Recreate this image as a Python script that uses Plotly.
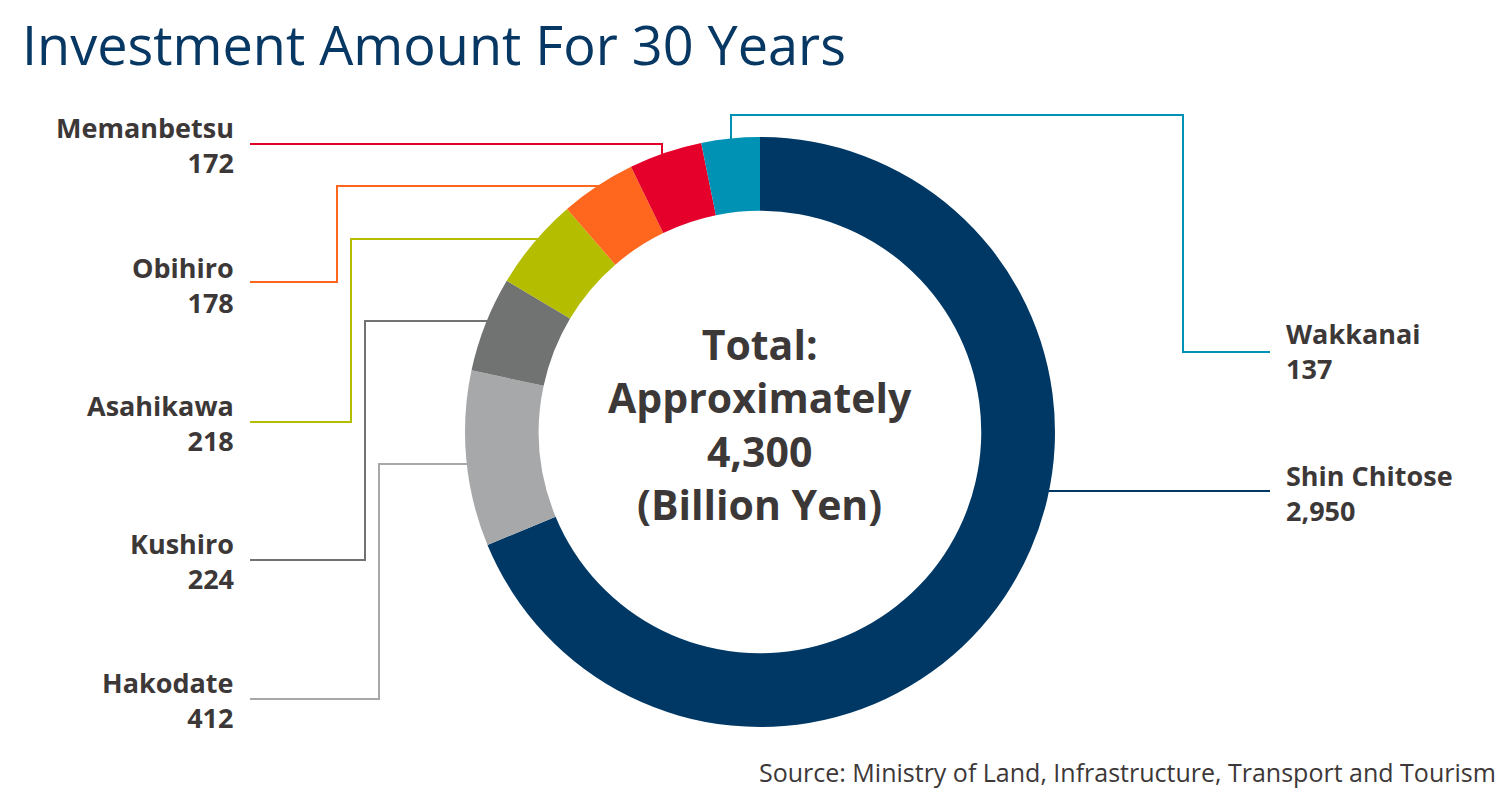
import plotly.graph_objects as go

# ---- data ----
airports = ["Shin Chitose", "Hakodate", "Kushiro", "Asahikawa", "Obihiro", "Memanbetsu", "Wakkanai"]
amounts = [2950, 412, 224, 218, 178, 172, 137]
colors = ["#003865", "#a7a8aa", "#707372", "#b5bd00", "#ff671f", "#e4002b", "#0092b5"]
value_labels = ["2,950", "412", "224", "218", "178", "172", "137"]
title_text = "Investment Amount For 30 Years"
center_lines = ["Total:", "Approximately", "4,300", "(Billion Yen)"]
source_text = "Source: Ministry of Land, Infrastructure, Transport and Tourism"

W, H = 1512, 792
def px(x): return x / W
def py(y): return 1 - y / H

TXT = "#3d3838"
# ---- layout constants (pixel positions) ----
cx, cy, R = 760, 432, 295
label_side = {"Shin Chitose": "right", "Wakkanai": "right"}
label_y = {"Memanbetsu": 145, "Obihiro": 285, "Asahikawa": 423, "Kushiro": 561,
           "Hakodate": 700, "Wakkanai": 351, "Shin Chitose": 493}
routes = {
    "Memanbetsu": [(250, 144), (662, 144), (662, 156)],
    "Obihiro": [(250, 282), (337, 282), (337, 186), (600, 186)],
    "Asahikawa": [(250, 422), (351, 422), (351, 239), (540, 239)],
    "Kushiro": [(250, 560), (365, 560), (365, 321), (492, 321)],
    "Hakodate": [(250, 699), (379, 699), (379, 464), (470, 464)],
    "Wakkanai": [(1270, 352), (1183, 352), (1183, 115), (731, 115), (731, 142)],
    "Shin Chitose": [(1270, 491), (1045, 491)],
}

fig = go.Figure(go.Pie(
    labels=airports, values=amounts, sort=False, direction="clockwise", rotation=0,
    hole=0.75, marker=dict(colors=colors, line=dict(width=0)),
    textinfo="none", showlegend=False, hoverinfo="label+value",
    domain=dict(x=[px(cx - R), px(cx + R)], y=[py(cy + R), py(cy - R)]),
))

shapes = []
for name, col in zip(airports, colors):
    pts = routes[name]
    path = "M " + " L ".join(f"{px(x)},{py(y)}" for x, y in pts)
    shapes.append(dict(type="path", path=path, xref="paper", yref="paper",
                       line=dict(color=col, width=2), layer="below"))

annotations = []
def add_text(text, x, y, anchor, size, color=TXT, bold=True, align=None):
    annotations.append(dict(
        text=f"<b>{text}</b>" if bold else text, x=px(x), y=py(y), xref="paper", yref="paper",
        xanchor=anchor, yanchor="middle", align=align or anchor, showarrow=False,
        font=dict(family="Open Sans", size=size, color=color)))

for name, val in zip(airports, value_labels):
    if label_side.get(name, "left") == "left":
        add_text(f"{name}<br>{val}", 236, label_y[name], "right", 27)
    else:
        add_text(f"{name}<br>{val}", 1284, label_y[name], "left", 27)

add_text("<br>".join(center_lines), cx, 424, "center", 41)
add_text(title_text, 20, 44, "left", 54, color="#073763", bold=False)
add_text(source_text, 1498, 772, "right", 25, bold=False)

fig.update_layout(width=W, height=H, margin=dict(l=0, r=0, t=0, b=0),
                  paper_bgcolor="white", plot_bgcolor="white",
                  shapes=shapes, annotations=annotations)
fig.write_html("out.html", config={"displayModeBar": False},
               post_script="document.body.style.margin='0';document.body.style.overflow='hidden';")
